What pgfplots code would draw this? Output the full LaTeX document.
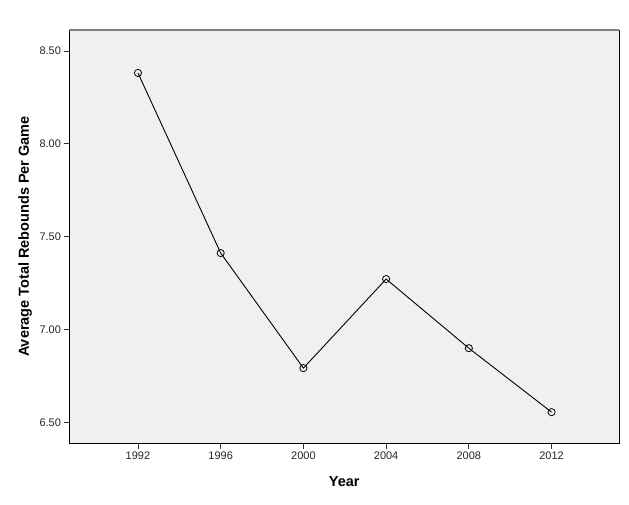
\documentclass[border=0pt]{standalone}
\usepackage{fontspec}
\setmainfont{Liberation Sans}
\usepackage{pgfplots}
\pgfplotsset{compat=1.18}
\begin{document}
\begin{tikzpicture}[x=1pt,y=1pt]
\useasboundingbox (0,0) rectangle (629,504);
\begin{axis}[
  at={(69.5pt,61pt)}, anchor=south west,
  scale only axis, width=549.5pt, height=413pt,
  xmin=1988.69, xmax=2015.26, ymin=6.391, ymax=8.613,
  axis background/.style={fill=black!6},
  axis line style={black, line width=0.9pt},
  xtick={1992,1996,2000,2004,2008,2012},
  ytick={6.5,7,7.5,8,8.5},
  tick align=outside, tick pos=left,
  major tick length=6pt,
  tick style={black!80, line width=0.9pt},
  /pgf/number format/assume math mode=true,
  ticklabel style={font=\fontsize{11}{13}\selectfont, text=black!85},
  xticklabel style={/pgf/number format/1000 sep={}, yshift=1pt},
  yticklabel style={/pgf/number format/fixed, /pgf/number format/fixed zerofill, /pgf/number format/precision=2, xshift=1pt},
  xlabel={\textbf{Year}},
  ylabel={\textbf{Average Total Rebounds Per Game}},
  label style={font=\fontsize{14.5}{16}\selectfont},
  xlabel style={at={(axis description cs:0.5,0)}, anchor=north, yshift=-30pt},
  ylabel style={at={(axis description cs:0,0.5)}, anchor=south, yshift=34pt},
  clip=false,
]
\addplot[black, line width=0.9pt, mark=o, mark size=3.6pt, mark options={line width=0.8pt}]
  coordinates {(1992,8.382) (1996,7.413) (2000,6.794) (2004,7.273) (2008,6.901) (2012,6.557)};
\draw[black!50, line width=1.2pt] (rel axis cs:0,1) -- (rel axis cs:1,1);
\end{axis}
\end{tikzpicture}
\end{document}
